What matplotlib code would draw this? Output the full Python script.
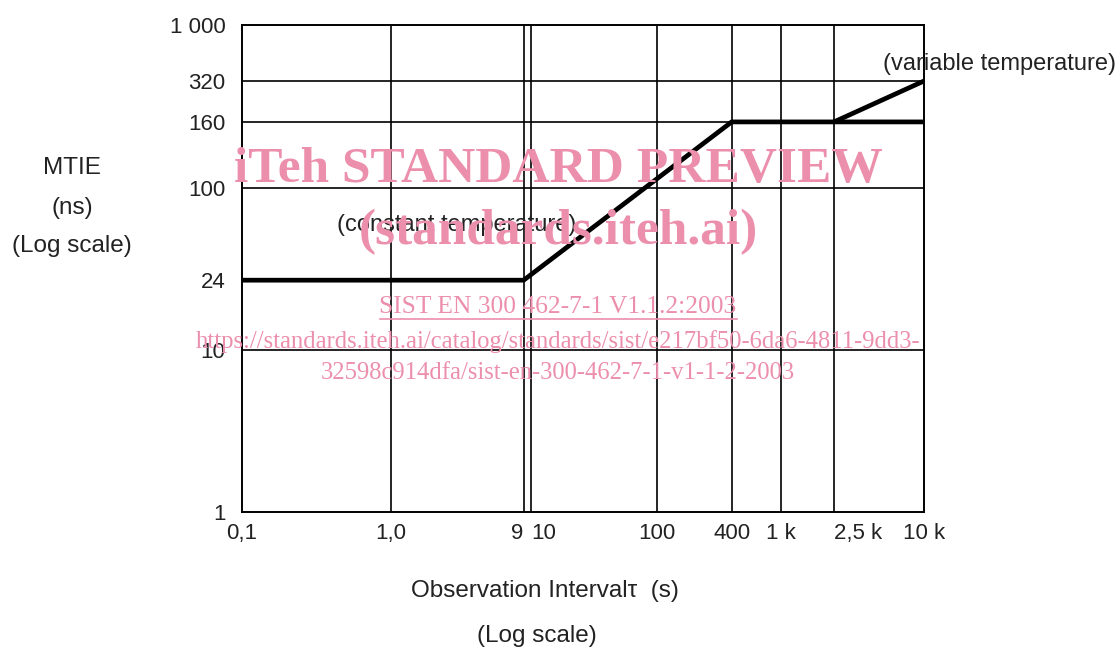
"""MTIE mask versus observation interval (schematic log axes)."""

import matplotlib.pyplot as plt
import numpy as np

# constant temperature mask
const_tau = [0.1, 9, 400, 10000]
const_mtie = [24, 24, 160, 160]

# variable temperature mask (departs from the 160 ns plateau)
var_tau = [2500, 10000]
var_mtie = [160, 320]

x_ticks = [0.1, 1, 9, 10, 100, 400, 1000, 2500, 10000]
x_labels = ["0,1", "1,0", "9", "10", "100", "400", "1 k", "2,5 k", "10 k"]
y_ticks = [1, 10, 24, 100, 160, 320, 1000]
y_labels = ["1", "10", "24", "100", "160", "320", "1 000"]

x_grid = [1, 9, 10, 100, 400, 1000, 2500]
y_grid = [10, 100, 160, 320]

# the drawing is schematic: tick spacing is not a true log scale,
# so map log10(value) piecewise onto where the ticks sit (axis fraction)
x_tick_frac = [0.0, 0.218, 0.413, 0.424, 0.609, 0.718, 0.790, 0.868, 1.0]
y_tick_frac = [0.0, 0.333, 0.476, 0.665, 0.801, 0.885, 1.0]

INK = "#222222"
WATERMARK = "#ec8fac"
SANS = "Liberation Sans"
SERIF = "Liberation Serif"


def piecewise_log(values, fracs):
    lv = np.log10(values)

    def fwd(v):
        v = np.clip(np.asarray(v, dtype=float), 1e-12, None)
        return np.interp(np.log10(v), lv, fracs)

    def inv(p):
        return 10 ** np.interp(np.asarray(p, dtype=float), fracs, lv)

    return fwd, inv


fig = plt.figure(figsize=(11.2, 6.49), dpi=100)
ax = fig.add_axes([242 / 1120, 1 - 512 / 649, 682 / 1120, 487 / 649])

ax.set_xscale("function", functions=piecewise_log(x_ticks, x_tick_frac))
ax.set_yscale("function", functions=piecewise_log(y_ticks, y_tick_frac))
ax.set_xlim(0.1, 10000)
ax.set_ylim(1, 1000)

for x in x_grid:
    ax.axvline(x, color="black", lw=1.2, zorder=1)
for y in y_grid:
    ax.axhline(y, color="black", lw=1.2, zorder=1)

ax.plot(const_tau, const_mtie, color="black", lw=3.4, zorder=3,
        solid_joinstyle="round")
ax.plot(var_tau, var_mtie, color="black", lw=3.4, zorder=3,
        solid_capstyle="round")

for s in ax.spines.values():
    s.set_color("black")
    s.set_linewidth(1.4)

ax.set_xticks(x_ticks, x_labels, fontsize=16, family=SANS, color=INK)
ax.set_yticks(y_ticks, y_labels, fontsize=16, family=SANS, color=INK)
ax.minorticks_off()
ax.tick_params(axis="x", length=0, pad=8)
ax.tick_params(axis="y", length=0, pad=12)
xl = ax.get_xticklabels()
xl[2].set_horizontalalignment("right")
xl[3].set_horizontalalignment("left")
xl[7].set_horizontalalignment("left")

ax.text(0.139, 0.59, "(constant temperature)", transform=ax.transAxes,
        fontsize=17, family=SANS, color=INK, ha="left", va="center")
ax.text(1.11, 0.92, "(variable temperature)", transform=ax.transAxes,
        fontsize=17, family=SANS, color=INK, ha="center", va="center")

# axis titles stacked as in the original
for txt, y in [("MTIE", 168), ("(ns)", 208), ("(Log scale)", 246)]:
    fig.text(72 / 1120, 1 - y / 649, txt, fontsize=17.5, family=SANS,
             color=INK, ha="center", va="center")
fig.text(545 / 1120, 1 - 591 / 649, "Observation Interval\u03c4  (s)",
         fontsize=17.5, family=SANS, color=INK, ha="center", va="center")
fig.text(537 / 1120, 1 - 636 / 649, "(Log scale)", fontsize=17.5,
         family=SANS, color=INK, ha="center", va="center")

# preview watermark overlay
fig.text(558 / 1120, 1 - 170 / 649, "iTeh STANDARD PREVIEW", fontsize=37,
         family=SERIF, weight="bold", color=WATERMARK, ha="center",
         va="center", zorder=5)
fig.text(558 / 1120, 1 - 232 / 649, "(standards.iteh.ai)", fontsize=37,
         family=SERIF, weight="bold", color=WATERMARK, ha="center",
         va="center", zorder=5)
fig.text(558 / 1120, 1 - 307 / 649, "SIST EN 300 462-7-1 V1.1.2:2003",
         fontsize=18.4, family=SERIF, color=WATERMARK, ha="center",
         va="center", zorder=5)
fig.add_artist(plt.Line2D([380 / 1120, 737 / 1120],
                          [1 - 319 / 649, 1 - 319 / 649],
                          color=WATERMARK, lw=1.2, zorder=5))
fig.text(558 / 1120, 1 - 342 / 649,
         "https://standards.iteh.ai/catalog/standards/sist/e217bf50-6da6-4811-9dd3-",
         fontsize=17.7, family=SERIF, color=WATERMARK, ha="center",
         va="center", zorder=5)
fig.text(558 / 1120, 1 - 373 / 649,
         "32598c914dfa/sist-en-300-462-7-1-v1-1-2-2003", fontsize=17.7,
         family=SERIF, color=WATERMARK, ha="center", va="center", zorder=5)

fig.savefig("out.png", dpi=100)
